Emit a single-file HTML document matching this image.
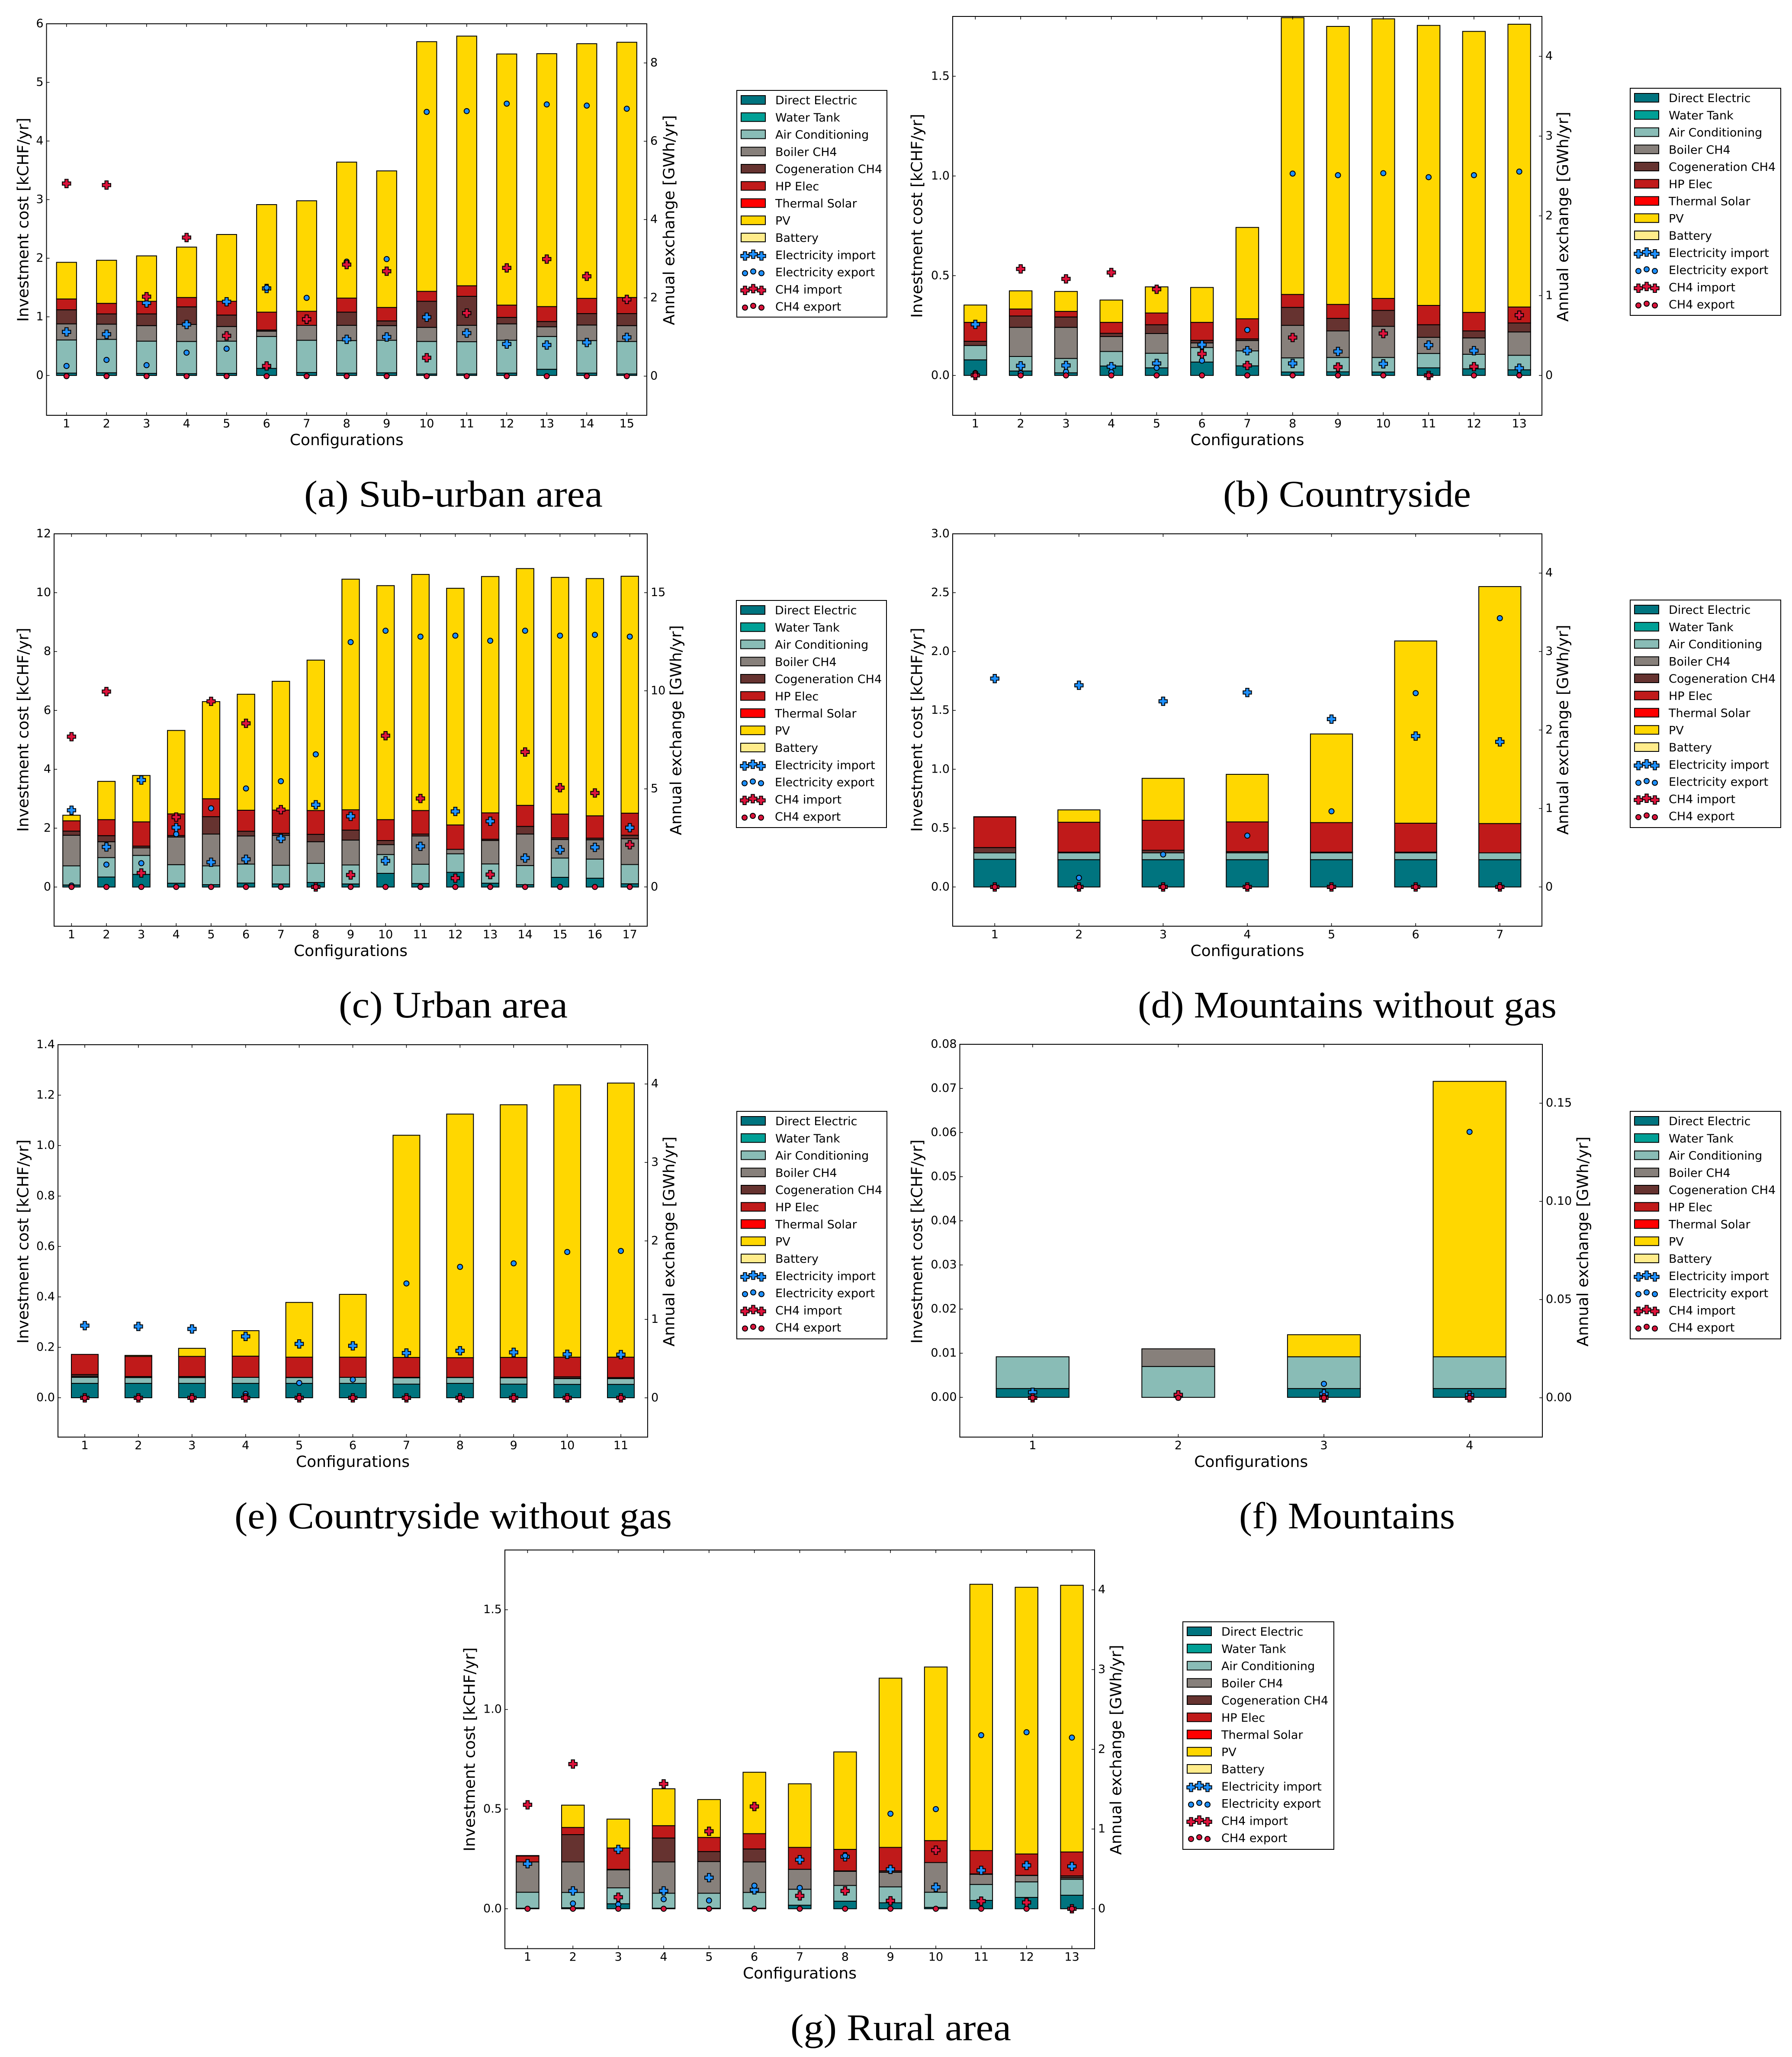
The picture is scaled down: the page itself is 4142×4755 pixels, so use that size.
<!DOCTYPE html>
<html lang="en">
<head>
<meta charset="utf-8">
<title>Investment cost and annual exchange per configuration</title>
<style>
html,body{margin:0;padding:0;background:#fff;}
svg{display:block;}
text{font-family:"DejaVu Sans","Liberation Sans",sans-serif;fill:#000;}
text.caption{font-family:"Liberation Serif","DejaVu Serif",serif;}
</style>
</head>
<body>
<svg id="figure" xmlns="http://www.w3.org/2000/svg" width="4142" height="4755" viewBox="0 0 4142 4755"></svg>
<script>
/* ---------- (a) Sub-urban area ---------- */
const aConfigurations = [1,2,3,4,5,6,7,8,9,10,11,12,13,14,15];
const aDirectElectric = [.04,.045,.035,.03,.035,.12,.05,.04,.045,.025,.025,.04,.105,.04,.025];
const aAirConditioning = [.565,.57,.55,.55,.55,.545,.55,.555,.555,.555,.55,.56,.56,.555,.555];
const aBoiler = [.275,.26,.265,.29,.25,.09,.255,.26,.25,.24,.28,.28,.165,.265,.27];
const aCogeneration = [.24,.175,.2,.3,.195,.02,0,.225,.08,.445,.495,.11,.09,.195,.205];
const aHpElec = [.185,.18,.215,.16,.235,.305,.24,.24,.23,.17,.18,.21,.255,.26,.275];
const aPv = [.625,.735,.775,.86,1.14,1.835,1.885,2.32,2.33,4.26,4.26,4.285,4.315,4.345,4.355];
const aElecImport = [1.13,1.07,1.87,1.32,1.90,2.24,1.45,.94,1.0,1.505,1.10,.82,.795,.86,.99];
const aElecExport = [.26,.415,.28,.6,.70,2.26,2.0,2.925,2.99,6.75,6.77,6.96,6.94,6.91,6.83];
const aCh4Import = [4.92,4.88,2.03,3.54,1.03,.26,1.455,2.85,2.68,.47,1.61,2.765,2.99,2.55,1.96];
const aCh4Export = [0,0,0,0,0,0,0,0,0,0,0,0,0,0,0];
const aLeftTickLabels = ["0","1","2","3","4","5","6"];
const aRightTickLabels = ["0","2","4","6","8"];

/* ---------- (b) Countryside ---------- */
const bConfigurations = [1,2,3,4,5,6,7,8,9,10,11,12,13];
const bDirectElectric = [.078,.022,.013,.047,.038,.067,.048,.017,.018,.017,.038,.033,.028];
const bAirConditioning = [.072,.073,.072,.073,.073,.073,.075,.071,.072,.073,.072,.073,.073];
const bBoiler = [0,.146,.156,.075,.099,.023,.052,.163,.133,.156,.081,.082,.117];
const bCogeneration = [.021,.057,.052,.016,.044,.013,.008,.09,.063,.08,.063,.035,.045];
const bHpElec = [.095,.035,.028,.055,.059,.09,.101,.065,.07,.06,.097,.093,.08];
const bPv = [.087,.091,.1,.112,.131,.175,.458,1.388,1.394,1.402,1.404,1.409,1.418];
const bElecImport = [.64,.12,.125,.11,.15,.385,.31,.15,.30,.145,.38,.31,.09];
const bElecExport = [.03,.025,.045,.04,.095,.185,.57,2.53,2.51,2.535,2.485,2.51,2.555];
const bCh4Import = [0,1.335,1.21,1.29,1.08,.27,.125,.475,.105,.525,0,.11,.755];
const bCh4Export = [0,0,0,0,0,0,0,0,0,0,0,0,0];
const bLeftTickLabels = ["0.0","0.5","1.0","1.5"];
const bRightTickLabels = ["0","1","2","3","4"];

/* ---------- (c) Urban area ---------- */
const cConfigurations = [1,2,3,4,5,6,7,8,9,10,11,12,13,14,15,16,17];
const cDirectElectric = [.07,.34,.43,.13,.08,.135,.105,.155,.105,.465,.12,.5,.13,.08,.33,.3,.11];
const cAirConditioning = [.65,.66,.645,.63,.64,.645,.635,.65,.645,.64,.655,.63,.655,.65,.655,.65,.655];
const cBoiler = [1.04,.54,.255,.94,1.08,.955,1.015,.735,.845,.335,.96,.15,.795,1.07,.63,.655,.875];
const cCogeneration = [.14,.205,.06,.05,.59,.16,.07,.25,.34,.14,.065,0,.045,.26,.055,.055,.12];
const cHpElec = [.35,.545,.825,.735,.61,.715,.79,.81,.69,.71,.8,.83,.895,.715,.81,.76,.75];
const cPv = [.19,1.30,1.575,2.835,3.3,3.94,4.375,5.11,7.835,7.95,8.02,8.04,8.03,8.045,8.04,8.06,8.05];
const cElecImport = [3.91,2.04,5.45,3.03,1.26,1.41,2.47,4.19,3.6,1.33,2.07,3.85,3.35,1.475,1.89,2.02,3.02];
const cElecExport = [.07,1.14,1.21,2.69,4.01,5.02,5.39,6.76,12.48,13.06,12.76,12.81,12.55,13.06,12.81,12.85,12.76];
const cCh4Import = [7.66,9.96,.71,3.56,9.46,8.34,3.94,0,.61,7.71,4.51,.45,.63,6.88,5.06,4.79,2.15];
const cCh4Export = [0,0,0,0,0,0,0,0,0,0,0,0,0,0,0,0,0];
const cLeftTickLabels = ["0","2","4","6","8","10","12"];
const cRightTickLabels = ["0","5","10","15"];

/* ---------- (d) Mountains without gas ---------- */
const dConfigurations = [1,2,3,4,5,6,7];
const dDirectElectric = [.235,.232,.232,.232,.232,.232,.232];
const dAirConditioning = [.055,.058,.058,.058,.058,.058,.058];
const dBoiler = [0,0,0,0,0,0,0];
const dCogeneration = [.045,.006,.022,.01,.006,.006,0];
const dHpElec = [.26,.254,.255,.253,.251,.246,.249];
const dPv = [.002,.105,.356,.404,.753,1.548,2.013];
const dElecImport = [2.655,2.57,2.366,2.478,2.139,1.923,1.849];
const dElecExport = [0,.116,.414,.654,.964,2.47,3.425];
const dCh4Import = [0,0,0,0,0,0,0];
const dCh4Export = [0,0,0,0,0,0,0];
const dLeftTickLabels = ["0.0","0.5","1.0","1.5","2.0","2.5","3.0"];
const dRightTickLabels = ["0","1","2","3","4"];

/* ---------- (e) Countryside without gas ---------- */
const eConfigurations = [1,2,3,4,5,6,7,8,9,10,11];
const eDirectElectric = [.057,.057,.057,.057,.057,.057,.054,.057,.054,.053,.053];
const eAirConditioning = [.024,.023,.023,.024,.023,.024,.025,.023,.025,.023,.023];
const eBoiler = [.004,0,0,0,0,0,0,0,0,.001,0];
const eCogeneration = [.007,.004,.004,0,.001,0,.002,.001,.002,.006,.004];
const eHpElec = [.08,.08,.08,.084,.08,.08,.079,.078,.079,.078,.081];
const ePv = [0,.004,.032,.101,.217,.249,.881,.966,1.002,1.08,1.087];
const eElecImport = [.92,.91,.878,.783,.687,.663,.571,.60,.58,.555,.551];
const eElecExport = [0,0,0,.05,.19,.232,1.458,1.669,1.714,1.859,1.872];
const eCh4Import = [0,0,0,0,0,0,0,0,0,0,0];
const eCh4Export = [0,0,0,0,0,0,0,0,0,0,0];
const eLeftTickLabels = ["0.0","0.2","0.4","0.6","0.8","1.0","1.2","1.4"];
const eRightTickLabels = ["0","1","2","3","4"];

/* ---------- (f) Mountains ---------- */
const fConfigurations = [1,2,3,4];
const fDirectElectric = [.002,0,.002,.002];
const fAirConditioning = [.0072,.007,.0072,.0072];
const fBoiler = [0,.004,0,0];
const fCogeneration = [0,0,0,0];
const fHpElec = [0,0,0,0];
const fPv = [0,0,.005,.0624];
const fElecImport = [.0028,.001,.002,.0013];
const fElecExport = [0,0,.0071,.1354];
const fCh4Import = [0,.0015,0,0];
const fCh4Export = [0,0,0,0];
const fLeftTickLabels = ["0.00","0.01","0.02","0.03","0.04","0.05","0.06","0.07","0.08"];
const fRightTickLabels = ["0.00","0.05","0.10","0.15"];

/* ---------- (g) Rural area ---------- */
const gConfigurations = [1,2,3,4,5,6,7,8,9,10,11,12,13];
const gDirectElectric = [.003,.005,.025,.003,.003,.003,.018,.038,.03,.007,.042,.057,.068];
const gAirConditioning = [.08,.077,.08,.075,.075,.079,.08,.079,.08,.076,.08,.078,.08];
const gBoiler = [.152,.153,.09,.157,.159,.153,.1,.071,.073,.149,.051,.032,.007];
const gCogeneration = [0,.137,.003,.12,.05,.065,0,.002,.007,0,.002,.001,.01];
const gHpElec = [.03,.036,.107,.062,.071,.077,.11,.108,.118,.11,.117,.107,.12];
const gPv = [.002,.112,.145,.185,.19,.308,.319,.489,.849,.871,1.336,1.338,1.338];
const gElecImport = [.565,.224,.744,.224,.39,.237,.615,.652,.494,.27,.482,.544,.532];
const gElecExport = [0,.066,.054,.12,.104,.29,.262,.665,1.192,1.25,2.177,2.214,2.147];
const gCh4Import = [1.304,1.815,.145,1.566,.972,1.283,.162,.224,.1,.735,.096,.079,0];
const gCh4Export = [0,0,0,0,0,0,0,0,0,0,0,0,0];
const gLeftTickLabels = ["0.0","0.5","1.0","1.5"];
const gRightTickLabels = ["0","1","2","3","4"];

const legendLabels = ["Direct Electric","Water Tank","Air Conditioning","Boiler CH4","Cogeneration CH4","HP Elec","Thermal Solar","PV","Battery","Electricity import","Electricity export","CH4 import","CH4 export"];
const legendColors = ["#00747f","#00a096","#89bcb6","#87807b","#663330","#c01a1a","#ff0000","#ffd700","#ffec8b","#1e90ff","#1e90ff","#dc143c","#dc143c"];

const NS = "http://www.w3.org/2000/svg";
const figure = document.getElementById("figure");

function make(parent, tag, attrs, content) {
  const el = document.createElementNS(NS, tag);
  for (const k in attrs) el.setAttribute(k, attrs[k]);
  if (content !== undefined) el.textContent = content;
  parent.appendChild(el);
  return el;
}

function plusPath(cx, cy) {
  const l = 9.7, a = 3.75;
  return "M" + (cx - a) + " " + (cy - l) + "H" + (cx + a) + "V" + (cy - a) + "H" + (cx + l) + "V" + (cy + a) +
    "H" + (cx + a) + "V" + (cy + l) + "H" + (cx - a) + "V" + (cy + a) + "H" + (cx - l) + "V" + (cy - a) + "H" + (cx - a) + "Z";
}

function drawPlus(parent, cx, cy, color, name) {
  const el = make(parent, "path", {d: plusPath(cx, cy), fill: color, stroke: "#000", "stroke-width": 2, "stroke-linejoin": "miter"});
  
  
}

function drawDot(parent, cx, cy, color, name) {
  const el = make(parent, "circle", {cx: cx, cy: cy, r: 6, fill: color, stroke: "#000", "stroke-width": 2});
  
  
}

function drawLegend(parent, left, right, top, bottom) {
  const g = make(parent, "g", {});
  
  
  const box = make(g, "rect", {x: left, y: top, width: right - left, height: bottom - top, fill: "#fff", stroke: "#000", "stroke-width": 2});
  
  
  legendLabels.forEach(function (label, i) {
    const cy = top + 22 + i * 39.75;
    if (i < 9) {
      const sw = make(g, "rect", {x: left + 10, y: cy - 10, width: 56, height: 20, fill: legendColors[i], stroke: "#000", "stroke-width": 2});
      
      
    } else {
      const offsets = [[19, 3], [38, -1], [57, 3]];
      offsets.forEach(function (o) {
        if (i === 9 || i === 11) drawPlus(g, left + o[0], cy + o[1], legendColors[i], 'legend-marker');
        else drawDot(g, left + o[0], cy + o[1], legendColors[i], 'legend-marker');
      });
    }
    const t = make(g, "text", {x: left + 89, y: cy + 10, "font-size": 27}, label);
    
    
  });
}

function drawChart(c) {
  const L = c.layout;
  const panel = make(figure, "g", {});
  
  

  const yLeft = function (v) { return L.top + (c.leftLim[1] - v) / (c.leftLim[1] - c.leftLim[0]) * (L.bottom - L.top); };
  const yRight = function (v) { return L.top + (c.rightLim[1] - v) / (c.rightLim[1] - c.rightLim[0]) * (L.bottom - L.top); };
  const n = c.categories.length;
  const unit = (L.right - L.left) / n;
  const xPos = function (i) { return L.left + (i + 0.5) * unit; };

  /* bars */
  const stackKeys = [
    ["direct-electric", c.directElectric, legendColors[0]],
    ["air-conditioning", c.airConditioning, legendColors[2]],
    ["boiler-ch4", c.boiler, legendColors[3]],
    ["cogeneration-ch4", c.cogeneration, legendColors[4]],
    ["hp-elec", c.hpElec, legendColors[5]],
    ["pv", c.pv, legendColors[7]]
  ];
  const bars = make(panel, "g", {});
  
  
  c.categories.forEach(function (cat, i) {
    let base = 0;
    stackKeys.forEach(function (s) {
      const v = s[1][i];
      if (v > 0) {
        const y1 = yLeft(base + v), y0 = yLeft(base);
        const r = make(bars, "rect", {x: xPos(i) - unit / 4, y: y1, width: unit / 2, height: y0 - y1, fill: s[2], stroke: "#000", "stroke-width": 2});
        
        
      }
      base += v;
    });
  });

  /* markers */
  const markers = make(panel, "g", {});
  
  
  c.categories.forEach(function (cat, i) { drawPlus(markers, xPos(i), yRight(c.elecImport[i]), "#1e90ff", 'electricity-import-point'); });
  c.categories.forEach(function (cat, i) { drawDot(markers, xPos(i), yRight(c.elecExport[i]), "#1e90ff", 'electricity-export-point'); });
  c.categories.forEach(function (cat, i) { drawPlus(markers, xPos(i), yRight(c.ch4Import[i]), "#dc143c", 'ch4-import-point'); });
  c.categories.forEach(function (cat, i) { drawDot(markers, xPos(i), yRight(c.ch4Export[i]), "#dc143c", 'ch4-export-point'); });

  /* frame */
  const frame = make(panel, "rect", {x: L.left, y: L.top, width: L.right - L.left, height: L.bottom - L.top, fill: "none", stroke: "#000", "stroke-width": 2});
  
  

  /* x ticks */
  const xAxis = make(panel, "g", {});
  
  
  c.categories.forEach(function (cat, i) {
    const x = xPos(i);
    make(xAxis, "path", {d: "M" + x + " " + L.bottom + "v-7M" + x + " " + L.top + "v7", stroke: "#000", "stroke-width": 1.5, fill: "none"});
    const t = make(xAxis, "text", {x: x, y: L.bottom + 28, "font-size": 27, "text-anchor": "middle"}, String(cat));
    
    
  });
  const xt = make(xAxis, "text", {x: (L.left + L.right) / 2, y: L.bottom + 69, "font-size": 36, "text-anchor": "middle"}, "Configurations");
  
  

  /* left axis */
  const leftAxis = make(panel, "g", {});
  
  
  c.leftTicks.forEach(function (label) {
    const y = yLeft(parseFloat(label));
    make(leftAxis, "path", {d: "M" + L.left + " " + y + "h7", stroke: "#000", "stroke-width": 1.5});
    const t = make(leftAxis, "text", {x: L.left - 7, y: y + 8, "font-size": 27, "text-anchor": "end"}, label);
    
    
  });
  const lt = make(leftAxis, "text", {transform: "translate(" + c.leftTitle[0] + " " + c.leftTitle[1] + ") rotate(-90)", "font-size": 36, "text-anchor": "middle", "dominant-baseline": "central"}, "Investment cost [kCHF/yr]");
  
  

  /* right axis */
  const rightAxis = make(panel, "g", {});
  
  
  c.rightTicks.forEach(function (label) {
    const y = yRight(parseFloat(label));
    make(rightAxis, "path", {d: "M" + L.right + " " + y + "h-7", stroke: "#000", "stroke-width": 1.5});
    const t = make(rightAxis, "text", {x: L.right + 8, y: y + 8, "font-size": 27}, label);
    
    
  });
  const rt = make(rightAxis, "text", {transform: "translate(" + c.rightTitle[0] + " " + c.rightTitle[1] + ") rotate(-90)", "font-size": 36, "text-anchor": "middle", "dominant-baseline": "central"}, "Annual exchange [GWh/yr]");
  
  

  drawLegend(panel, c.legend[0], c.legend[1], c.legend[2], c.legend[3]);

  /* caption */
  const cap = make(panel, "text", {"class": "caption", x: c.caption[1], y: c.caption[3], "font-size": 87, textLength: c.caption[2] - c.caption[1], lengthAdjust: "spacingAndGlyphs"}, c.caption[0]);
  
  
}

[
  {id: "a", layout: {left: 107.5, right: 1495, top: 55, bottom: 960}, leftLim: [-.68, 6], rightLim: [-1, 9],
   categories: aConfigurations, directElectric: aDirectElectric, airConditioning: aAirConditioning, boiler: aBoiler, cogeneration: aCogeneration, hpElec: aHpElec, pv: aPv,
   elecImport: aElecImport, elecExport: aElecExport, ch4Import: aCh4Import, ch4Export: aCh4Export,
   leftTicks: aLeftTickLabels, rightTicks: aRightTickLabels, leftTitle: [54, 508], rightTitle: [1547, 509],
   legend: [1703, 2050, 209, 733], caption: ["(a) Sub-urban area", 703, 1393, 1171]},
  {id: "b", layout: {left: 2202, right: 3564, top: 38, bottom: 960}, leftLim: [-.2, 1.8], rightLim: [-.5, 4.5],
   categories: bConfigurations, directElectric: bDirectElectric, airConditioning: bAirConditioning, boiler: bBoiler, cogeneration: bCogeneration, hpElec: bHpElec, pv: bPv,
   elecImport: bElecImport, elecExport: bElecExport, ch4Import: bCh4Import, ch4Export: bCh4Export,
   leftTicks: bLeftTickLabels, rightTicks: bRightTickLabels, leftTitle: [2120, 499], rightTitle: [3613, 501],
   legend: [3768, 4116, 204, 729], caption: ["(b) Countryside", 2827, 3400, 1171]},
  {id: "c", layout: {left: 125, right: 1496, top: 1234, bottom: 2141}, leftLim: [-1.33, 12], rightLim: [-2, 18],
   categories: cConfigurations, directElectric: cDirectElectric, airConditioning: cAirConditioning, boiler: cBoiler, cogeneration: cCogeneration, hpElec: cHpElec, pv: cPv,
   elecImport: cElecImport, elecExport: cElecExport, ch4Import: cCh4Import, ch4Export: cCh4Export,
   leftTicks: cLeftTickLabels, rightTicks: cRightTickLabels, leftTitle: [54, 1687], rightTitle: [1563, 1688],
   legend: [1702, 2049, 1388, 1913], caption: ["(c) Urban area", 783, 1312, 2352]},
  {id: "d", layout: {left: 2202, right: 3564, top: 1234, bottom: 2141}, leftLim: [-.333, 3], rightLim: [-.5, 4.5],
   categories: dConfigurations, directElectric: dDirectElectric, airConditioning: dAirConditioning, boiler: dBoiler, cogeneration: dCogeneration, hpElec: dHpElec, pv: dPv,
   elecImport: dElecImport, elecExport: dElecExport, ch4Import: dCh4Import, ch4Export: dCh4Export,
   leftTicks: dLeftTickLabels, rightTicks: dRightTickLabels, leftTitle: [2120, 1687], rightTitle: [3613, 1687],
   legend: [3768, 4116, 1387, 1913], caption: ["(d) Mountains without gas", 2630, 3598, 2352]},
  {id: "e", layout: {left: 134, right: 1497, top: 2415, bottom: 3322}, leftLim: [-.156, 1.4], rightLim: [-.5, 4.5],
   categories: eConfigurations, directElectric: eDirectElectric, airConditioning: eAirConditioning, boiler: eBoiler, cogeneration: eCogeneration, hpElec: eHpElec, pv: ePv,
   elecImport: eElecImport, elecExport: eElecExport, ch4Import: eCh4Import, ch4Export: eCh4Export,
   leftTicks: eLeftTickLabels, rightTicks: eRightTickLabels, leftTitle: [54, 2870], rightTitle: [1547, 2870],
   legend: [1703, 2050, 2569, 3095], caption: ["(e) Countryside without gas", 542, 1553, 3533]},
  {id: "f", layout: {left: 2218.5, right: 3565, top: 2414, bottom: 3322}, leftLim: [-.009, .08], rightLim: [-.02, .18],
   categories: fConfigurations, directElectric: fDirectElectric, airConditioning: fAirConditioning, boiler: fBoiler, cogeneration: fCogeneration, hpElec: fHpElec, pv: fPv,
   elecImport: fElecImport, elecExport: fElecExport, ch4Import: fCh4Import, ch4Export: fCh4Export,
   leftTicks: fLeftTickLabels, rightTicks: fRightTickLabels, leftTitle: [2120, 2870], rightTitle: [3659, 2870],
   legend: [3768, 4116, 2569, 3095], caption: ["(f) Mountains", 2864, 3363, 3533]},
  {id: "g", layout: {left: 1167, right: 2530, top: 3583, bottom: 4504.5}, leftLim: [-.2, 1.8], rightLim: [-.5, 4.5],
   categories: gConfigurations, directElectric: gDirectElectric, airConditioning: gAirConditioning, boiler: gBoiler, cogeneration: gCogeneration, hpElec: gHpElec, pv: gPv,
   elecImport: gElecImport, elecExport: gElecExport, ch4Import: gCh4Import, ch4Export: gCh4Export,
   leftTicks: gLeftTickLabels, rightTicks: gRightTickLabels, leftTitle: [1086, 4044], rightTitle: [2580, 4045],
   legend: [2734, 3083, 3749, 4275], caption: ["(g) Rural area", 1827, 2337, 4716]}
].forEach(drawChart);
</script>
</body>
</html>
